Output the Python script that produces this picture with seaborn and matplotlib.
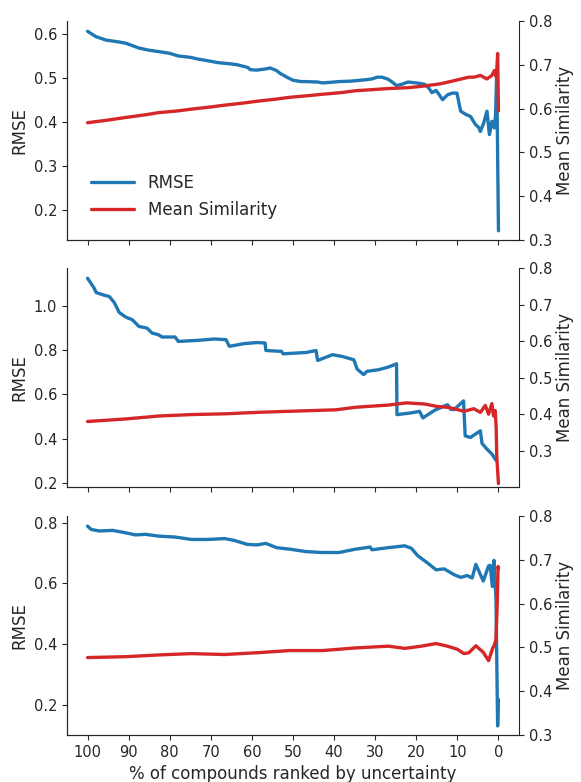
import matplotlib
matplotlib.use("Agg")
import matplotlib.pyplot as plt
import seaborn as sns
import pandas as pd

# panel 1
pct1_rmse = [100, 98, 95.5, 92.5, 90.7, 87.5, 85, 82.7, 80, 77.9, 75, 73.1, 70, 68.3, 65, 63.5,
             61, 60.4, 58.8, 56.4, 55.6, 54, 53.2, 51.5, 50, 48, 46.8, 44, 42.8, 40, 38.8, 36,
             34.8, 32.5, 30.8, 29.5, 28.4, 27, 26, 24.8, 23.5, 22, 20, 18, 17, 16.2, 15.2, 14.4,
             13.6, 12.4, 11.2, 10.1, 9.2, 8, 6.8, 5.6, 4.8, 4.4, 3.6, 2.8, 2.2, 1.6, 1.0, 0.7,
             0.45, 0.3, 0.0]
rmse1 = [0.606, 0.594, 0.586, 0.582, 0.579, 0.568, 0.563, 0.560, 0.556, 0.550, 0.547, 0.543,
         0.538, 0.535, 0.532, 0.530, 0.524, 0.519, 0.518, 0.521, 0.523, 0.517, 0.511, 0.502,
         0.495, 0.492, 0.492, 0.491, 0.489, 0.491, 0.492, 0.493, 0.494, 0.496, 0.498, 0.502,
         0.502, 0.498, 0.492, 0.483, 0.486, 0.491, 0.489, 0.486, 0.478, 0.467, 0.472, 0.462,
         0.451, 0.462, 0.466, 0.466, 0.425, 0.418, 0.413, 0.395, 0.388, 0.379, 0.398, 0.425,
         0.372, 0.402, 0.387, 0.417, 0.504, 0.409, 0.154]
pct1_sim = [100, 95, 90.7, 86, 82.7, 78, 74.7, 70, 66.7, 62, 58.8, 54, 50.8, 46, 42.8, 38, 34.8,
            30, 26.8, 22, 18.8, 14, 10.8, 7.2, 5.9, 4.4, 2.8, 1.6, 1.0, 0.5, 0.2, 0.0]
sim1 = [0.568, 0.574, 0.580, 0.586, 0.591, 0.595, 0.599, 0.604, 0.608, 0.613, 0.617, 0.622,
        0.626, 0.630, 0.633, 0.637, 0.641, 0.644, 0.646, 0.648, 0.651, 0.657, 0.664, 0.672,
        0.672, 0.676, 0.668, 0.676, 0.687, 0.672, 0.726, 0.595]

# panel 2
pct2_rmse = [100, 98.4, 97.9, 96.3, 94.7, 93.5, 92.3, 90.7, 89.1, 87.5, 85.5, 84.3, 82.7, 81.9,
             78.7, 77.9, 73.1, 69.1, 66.3, 65.5, 61.9, 58.8, 56.8, 56.6, 52.8, 52.4, 46.8, 44.4,
             44.0, 40.4, 38.0, 35.2, 34.4, 32.8, 32.0, 29.2, 26.8, 24.8, 24.7, 21.2, 19.2, 18.4,
             15.6, 13.2, 12.4, 11.6, 10.8, 8.5, 8.1, 6.8, 4.4, 4.0, 2.8, 1.6, 0.8, 0.5]
rmse2 = [1.125, 1.080, 1.060, 1.050, 1.042, 1.015, 0.970, 0.949, 0.937, 0.907, 0.899, 0.877,
         0.869, 0.859, 0.859, 0.839, 0.844, 0.850, 0.847, 0.817, 0.829, 0.834, 0.832, 0.798,
         0.794, 0.783, 0.789, 0.798, 0.753, 0.779, 0.771, 0.756, 0.714, 0.689, 0.704, 0.711,
         0.723, 0.738, 0.508, 0.516, 0.523, 0.493, 0.527, 0.547, 0.553, 0.532, 0.531, 0.570,
         0.412, 0.405, 0.435, 0.378, 0.352, 0.330, 0.307, 0.300]
pct2_sim = [100, 90.7, 82.7, 74.7, 66.7, 58.8, 50.8, 39.6, 34.8, 26.8, 22.4, 18, 14.8, 12.4,
            10.8, 8.4, 6.0, 4.4, 3.2, 2.4, 1.6, 1.2, 0.8, 0.55, 0.4, 0.0]
sim2 = [0.380, 0.387, 0.395, 0.399, 0.401, 0.405, 0.408, 0.412, 0.419, 0.425, 0.431, 0.428,
        0.421, 0.419, 0.415, 0.408, 0.415, 0.405, 0.424, 0.400, 0.429, 0.395, 0.410, 0.362,
        0.28, 0.21]

# panel 3
pct3_rmse = [100, 99.1, 97.1, 93.9, 90.7, 88.3, 85.9, 82.7, 78.7, 74.7, 70.7, 66.7, 64.3, 61.2,
             58.8, 56.6, 54, 50.8, 46.8, 42.8, 38.8, 34.8, 31.2, 30.8, 26.8, 22.8, 21.2, 19.6,
             18, 17.2, 15.2, 13.2, 10.8, 9.2, 7.6, 6.4, 5.5, 3.7, 2.4, 2.0, 1.5, 1.1, 0.6, 0.4,
             0.2, 0.0]
rmse3 = [0.789, 0.778, 0.773, 0.775, 0.767, 0.760, 0.762, 0.756, 0.753, 0.745, 0.745, 0.748,
         0.742, 0.729, 0.727, 0.732, 0.718, 0.713, 0.705, 0.702, 0.702, 0.713, 0.720, 0.711,
         0.718, 0.724, 0.716, 0.691, 0.675, 0.667, 0.645, 0.648, 0.629, 0.620, 0.626, 0.618,
         0.663, 0.608, 0.658, 0.660, 0.590, 0.676, 0.547, 0.337, 0.130, 0.217]
pct3_sim = [100, 90.7, 82.7, 74.7, 66.7, 58.8, 50.8, 42.8, 34.8, 26.8, 22.8, 18.8, 15.2, 12.4,
            10.0, 8.4, 7.2, 5.5, 3.7, 2.4, 1.5, 0.9, 0.6, 0.3, 0.1, 0.0]
sim3 = [0.477, 0.479, 0.483, 0.486, 0.484, 0.488, 0.493, 0.493, 0.499, 0.503, 0.498, 0.503,
        0.509, 0.503, 0.496, 0.486, 0.488, 0.504, 0.489, 0.470, 0.496, 0.508, 0.520, 0.600,
        0.685, 0.680]

panels = [
    (pct1_rmse, rmse1, pct1_sim, sim1, (0.133, 0.629), (0.3, 0.8), [0.2, 0.3, 0.4, 0.5, 0.6]),
    (pct2_rmse, rmse2, pct2_sim, sim2, (0.18, 1.17), (0.2, 0.8), [0.2, 0.4, 0.6, 0.8, 1.0]),
    (pct3_rmse, rmse3, pct3_sim, sim3, (0.10, 0.822), (0.3, 0.8), [0.2, 0.4, 0.6, 0.8]),
]
bottoms = [0.693, 0.377, 0.060]

sns.set_style("ticks")
plt.rcParams['font.family'] = ['DejaVu Sans']

blue = '#1f77b4'
red = '#d62728'
fig = plt.figure(figsize=(5.81, 7.82), dpi=100)

for i, (xr, yr, xs, ys, lim_l, lim_r, ticks_l) in enumerate(panels):
    ax = fig.add_axes([0.1153, bottoms[i], 0.778, 0.280])
    df_r = pd.DataFrame({'pct': xr, 'val': yr})
    df_s = pd.DataFrame({'pct': xs, 'val': ys})
    sns.lineplot(data=df_r, x='pct', y='val', ax=ax, color=blue, lw=2.4,
                 estimator=None, sort=False, label='RMSE')
    ax2 = ax.twinx()
    sns.lineplot(data=df_s, x='pct', y='val', ax=ax2, color=red, lw=2.4,
                 estimator=None, sort=False, label='Mean Similarity')

    ax.set_xlim(105, -5)
    ax.set_xticks(range(100, -1, -10))
    ax.set_ylim(*lim_l)
    ax.set_yticks(ticks_l)
    ax2.set_ylim(*lim_r)
    ax2.set_yticks([0.3, 0.4, 0.5, 0.6, 0.7, 0.8])
    ax.set_ylabel('RMSE', fontsize=12)
    ax2.set_ylabel('Mean Similarity', fontsize=12, labelpad=3)
    ax.tick_params(labelsize=10.5)
    ax2.tick_params(labelsize=10.5)
    for a in (ax, ax2):
        a.spines['top'].set_visible(False)
        a.spines['right'].set_visible(a is ax2)
    if i < 2:
        ax.set_xlabel('')
        ax.tick_params(labelbottom=False)
    else:
        ax.set_xlabel('% of compounds ranked by uncertainty', fontsize=12)

    h1, l1 = ax.get_legend_handles_labels()
    h2, l2 = ax2.get_legend_handles_labels()
    if ax2.get_legend():
        ax2.get_legend().remove()
    if i == 0:
        ax.legend(h1 + h2, l1 + l2, loc='lower left', frameon=False, fontsize=12,
                  bbox_to_anchor=(0.02, 0.03), handlelength=2.6)
    else:
        ax.get_legend().remove()

fig.savefig('out.png', dpi=100)
